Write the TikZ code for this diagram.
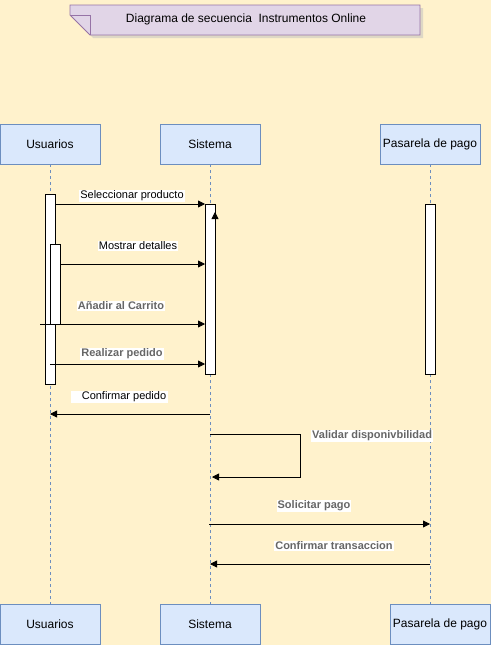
\documentclass[tikz,border=0pt]{standalone}
\usepackage{fontspec}
\setmainfont{Liberation Sans}
\usetikzlibrary{arrows.meta}
\definecolor{bgy}{HTML}{FFF2CC}
\definecolor{lblue}{HTML}{DAE8FC}
\definecolor{sblue}{HTML}{6C8EBF}
\definecolor{lpurp}{HTML}{E1D5E7}
\definecolor{spurp}{HTML}{9673A6}
\definecolor{gtext}{HTML}{666666}
\tikzset{
  actor/.style={draw=sblue, fill=lblue, minimum width=100pt, minimum height=40pt, font=\fontsize{12}{14}\selectfont, inner sep=0pt},
  life/.style={draw=sblue, dash pattern=on 3pt off 3pt, line width=0.6pt},
  actbar/.style={draw=black, fill=white, line width=0.8pt},
  msg/.style={draw=black, line width=0.8pt, -{Triangle[length=7pt,width=7pt]}},
  lbl/.style={fill=white, inner sep=1pt, font=\fontsize{11}{13}\selectfont},
  glbl/.style={lbl, text=gtext, font=\fontsize{11}{13}\selectfont\bfseries},
}
\begin{document}
\begin{tikzpicture}[x=1pt,y=-1pt]
\useasboundingbox (0,0) rectangle (491,645);
\fill[bgy] (0,0) rectangle (491,645);
% title note
\fill[black!25, opacity=0.5] (73,8) -- (423,8) -- (423,38) -- (93,38) -- (73,18) -- cycle;
\filldraw[fill=lpurp, draw=spurp, line width=0.8pt] (70,5) -- (420,5) -- (420,35) -- (90,35) -- (70,15) -- cycle;
\draw[spurp, line width=0.8pt] (70,15) -- (90,15) -- (90,35);
\node[font=\fontsize{12}{14}\selectfont] (title) at (246,19.5) {Diagrama de secuencia\ \ Instrumentos Online};
% actors
\node[actor] (u1) at (50,144) {Usuarios};
\node[actor] (s1) at (210,144) {Sistema};
\node[actor] (p1) at (430,144) {Pasarela de pago};
\node[actor] (u2) at (50,624) {Usuarios};
\node[actor] (s2) at (210,624) {Sistema};
\node[actor] (p2) at (440,624) {Pasarela de pago};
% lifelines
\draw[life] (u1.south) -- (u2.north);
\draw[life] (s1.south) -- (s2.north);
\coordinate (pb) at (430,604);
\draw[life] (p1.south) -- (pb);
% activation bars
\filldraw[actbar] (45,194) rectangle (55,384);
\filldraw[actbar] (50,244) rectangle (60,324);
\filldraw[actbar] (205,204) rectangle (215,374);
\filldraw[actbar] (425,204) rectangle (435,374);
\draw[msg] (215,300) -- (215,212);
% coordinates
\coordinate (a1) at (55,204); \coordinate (b1) at (205,204);
\coordinate (a2) at (60,264); \coordinate (b2) at (205,264);
\coordinate (a3) at (40,324); \coordinate (b3) at (205,324);
\coordinate (a4) at (50,364); \coordinate (b4) at (205,364);
\coordinate (a5) at (210,414); \coordinate (b5) at (50,414);
\coordinate (a6) at (210,434); \coordinate (b6) at (212,477);
\coordinate (a7) at (209,524); \coordinate (b7) at (430,524);
\coordinate (a8) at (430,564); \coordinate (b8) at (210,564);
% messages
\draw[msg] (a1) -- (b1);
\node[lbl] (l1) at (132,196) {Seleccionar producto};
\draw[msg] (a2) -- (b2);
\node[lbl] (l2) at (138,246) {Mostrar detalles};
\draw[msg] (a3) -- (b3);
\node[glbl] (l3) at (121,306) {Añadir al Carrito};
\draw[msg] (a4) -- (b4);
\node[glbl] (l4) at (122,354) {Realizar pedido};
\draw[msg] (a5) -- (b5);
\node[lbl, minimum width=97pt] (l5) at (119,397) {\hspace{10pt}Confirmar pedido};
\draw[msg] (a6) -- (300,434) -- (300,477) -- (b6);
\node[glbl, anchor=west] (l6) at (311,436) {Validar disponivbilidad};
\draw[msg] (a7) -- (b7);
\node[glbl] (l7) at (314,506) {Solicitar pago};
\draw[msg] (a8) -- (b8);
\node[glbl] (l8) at (334,546) {Confirmar transaccion};
\end{tikzpicture}
\end{document}
